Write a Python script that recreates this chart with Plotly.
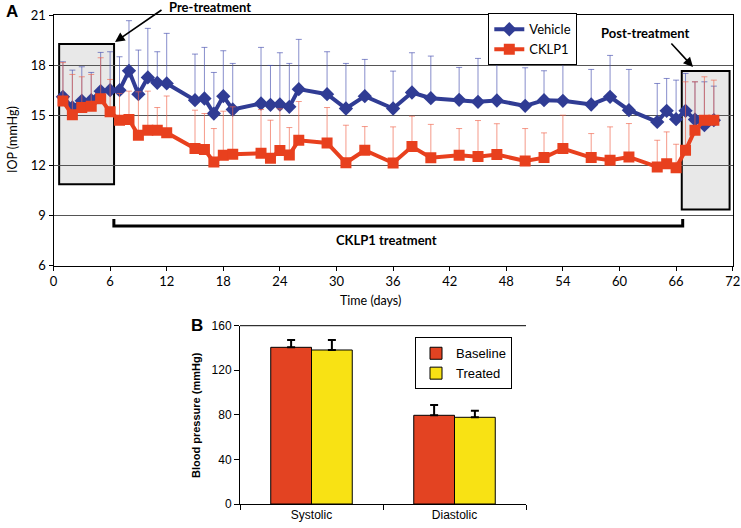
import plotly.graph_objects as go

# ---------------- Panel A data ----------------
days = [1, 2, 3, 4, 5, 6, 7, 8, 9, 10, 11, 12, 15, 16, 17, 18, 19, 22, 23, 24, 25, 26,
        29, 31, 33, 36, 38, 40, 43, 45, 47, 50, 52, 54, 57, 59, 61, 64, 65, 66, 67, 68, 69, 70]
vehicle = [16.1, 15.46, 15.86, 15.9, 16.44, 16.5, 16.5, 17.66, 16.26, 17.26, 16.94, 16.9,
           15.9, 16.0, 15.1, 16.14, 15.34,
           15.7, 15.62, 15.64, 15.5, 16.56,
           16.26, 15.4, 16.14, 15.4, 16.36, 16.02, 15.92, 15.8, 15.88,
           15.56, 15.9, 15.86, 15.64, 16.1, 15.3,
           14.6, 15.26, 14.76, 15.26, 14.74, 14.4, 14.7]
vehicle_err = [2.1, 2.24, 2.04, 1.66, 2.32, 2.3, 2.0, 3.0, 2.64, 2.94, 1.86, 3.0,
               2.76, 3.06, 2.46, 2.72, 2.76,
               3.36, 2.36, 3.1, 2.6, 2.98,
               2.54, 2.7, 2.2, 2.24, 2.38, 2.52, 1.94, 2.6, 2.44,
               2.28, 1.76, 2.44, 2.1, 2.48, 2.44,
               2.3, 1.94, 2.34, 2.24, 2.26, 2.6, 2.04]
cklp1 = [15.85, 15.02, 15.46, 15.54, 15.98, 15.2, 14.7, 14.74, 13.8, 14.1, 14.1, 13.95,
         13.0, 12.94, 12.2, 12.6, 12.66,
         12.72, 12.42, 12.88, 12.62, 13.5,
         13.34, 12.15, 12.9, 12.14, 13.12, 12.45, 12.6, 12.52, 12.64,
         12.26, 12.46, 13.0, 12.46, 12.3, 12.5,
         11.9, 12.1, 11.86, 12.9, 14.1, 14.7, 14.7]
cklp1_err = [2.3, 2.42, 1.84, 1.9, 2.46, 1.94, 1.6, 1.7, 2.6, 2.34, 1.36, 2.2,
             2.3, 2.16, 2.0, 2.64, 2.84,
             2.62, 2.28, 2.5, 1.64, 2.32,
             2.12, 2.25, 1.42, 2.16, 1.82, 2.0, 1.6, 2.16, 1.85,
             1.94, 1.48, 2.0, 1.44, 2.0, 2.0,
             1.6, 1.9, 1.4, 4.1, 2.9, 2.6, 2.4]
x_ticks = [0, 6, 12, 18, 24, 30, 36, 42, 48, 54, 60, 66, 72]
y_ticks = [6, 9, 12, 15, 18, 21]

# ---------------- Panel B data ----------------
bp_categories = ["Systolic", "Diastolic"]
baseline = [140.6, 79.6]
baseline_err = [6.5, 9.2]
treated = [138.2, 77.8]
treated_err = [8.9, 5.9]
bp_ticks = [0, 40, 80, 120, 160]

W, H = 741, 528
def px(x):
    return x / W
def py(y):
    return 1 - y / H

BLUE = "#303C94"
RED = "#E8401E"
FA = "Lato"
FB = "Liberation Sans"

fig = go.Figure()

fig.add_trace(go.Scatter(
    x=days, y=vehicle, name="Vehicle", mode="lines+markers",
    line=dict(color=BLUE, width=4),
    marker=dict(symbol="diamond", size=11, color=BLUE),
    error_y=dict(type="data", array=vehicle_err, arrayminus=[0] * len(days), symmetric=False,
                 color="rgba(70,80,175,0.65)", thickness=1, width=3),
    xaxis="x", yaxis="y", legend="legend"))
fig.add_trace(go.Scatter(
    x=days, y=cklp1, name="CKLP1", mode="lines+markers",
    line=dict(color=RED, width=4),
    marker=dict(symbol="square", size=11, color=RED),
    error_y=dict(type="data", array=cklp1_err, arrayminus=[0] * len(days), symmetric=False,
                 color="rgba(240,100,75,0.65)", thickness=1, width=3),
    xaxis="x", yaxis="y", legend="legend"))

fig.add_trace(go.Bar(
    x=bp_categories, y=baseline, name="Baseline",
    marker=dict(color="#E34322", line=dict(color="black", width=1)),
    error_y=dict(type="data", array=baseline_err, arrayminus=[0, 0], symmetric=False,
                 color="black", thickness=2, width=4),
    xaxis="x2", yaxis="y2", legend="legend2"))
fig.add_trace(go.Bar(
    x=bp_categories, y=treated, name="Treated",
    marker=dict(color="#F8E214", line=dict(color="black", width=1)),
    error_y=dict(type="data", array=treated_err, arrayminus=[0, 0], symmetric=False,
                 color="black", thickness=2, width=4),
    xaxis="x2", yaxis="y2", legend="legend2"))

shapes = [
    dict(type="rect", xref="x", yref="y", x0=0.6, x1=6.42, y0=10.86, y1=19.26,
         fillcolor="#E8E8E8", line=dict(color="black", width=2), layer="below"),
    dict(type="rect", xref="x", yref="y", x0=66.6, x1=71.67, y0=9.36, y1=17.64,
         fillcolor="#E8E8E8", line=dict(color="black", width=2), layer="below"),
    dict(type="path", xref="x", yref="y",
         path="M 6.4,8.78 L 6.4,8.36 L 66.7,8.36 L 66.7,8.78",
         line=dict(color="black", width=3)),
    dict(type="line", xref="paper", yref="paper", x0=px(240), x1=px(526),
         y0=py(325.7), y1=py(325.7), line=dict(color="black", width=1)),
]

annotations = [
    dict(text="<b>A</b>", x=px(4), y=py(12), xref="paper", yref="paper", showarrow=False,
         xanchor="left", yanchor="middle", font=dict(family=FB, size=17, color="black")),
    dict(text="<b>B</b>", x=px(189), y=py(325), xref="paper", yref="paper", showarrow=False,
         xanchor="left", yanchor="middle", font=dict(family=FB, size=17, color="black")),
    dict(text="<b>Pre-treatment</b>", x=px(167), y=py(7), xref="paper", yref="paper",
         showarrow=False, xanchor="left", yanchor="middle",
         font=dict(family=FA, size=13, color="black")),
    dict(text="", x=px(115), y=py(42), xref="paper", yref="paper", showarrow=True,
         ax=48, ay=-33, arrowhead=2, arrowsize=1.2, arrowwidth=1.6, arrowcolor="black",
         standoff=0),
    dict(text="<b>Post-treatment</b>", x=px(645), y=py(33), xref="paper", yref="paper",
         showarrow=False, xanchor="center", yanchor="middle",
         font=dict(family=FA, size=13, color="black")),
    dict(text="", x=px(693), y=py(67), xref="paper", yref="paper", showarrow=True,
         ax=-23, ay=-25, arrowhead=2, arrowsize=1.2, arrowwidth=1.6, arrowcolor="black",
         standoff=0),
    dict(text="<b>CKLP1 treatment</b>", x=px(386), y=py(240), xref="paper", yref="paper",
         showarrow=False, xanchor="center", yanchor="middle",
         font=dict(family=FA, size=13, color="black")),
    dict(text="Time (days)", x=px(370), y=py(300), xref="paper", yref="paper",
         showarrow=False, xanchor="center", yanchor="middle",
         font=dict(family=FA, size=12.5, color="black")),
    dict(text="IOP (mmHg)", x=px(12), y=py(140), xref="paper", yref="paper",
         showarrow=False, xanchor="center", yanchor="middle", textangle=-90,
         font=dict(family=FA, size=12.5, color="black")),
    dict(text="<b>Blood pressure (mmHg)</b>", x=px(196), y=py(415), xref="paper", yref="paper",
         showarrow=False, xanchor="center", yanchor="middle", textangle=-90,
         font=dict(family=FB, size=11, color="black")),
]

fig.update_layout(
    width=W, height=H, margin=dict(l=0, r=0, t=0, b=0, autoexpand=False),
    paper_bgcolor="white", plot_bgcolor="rgba(0,0,0,0)",
    shapes=shapes, annotations=annotations,
    barmode="group", bargap=0.43, bargroupgap=0,
    xaxis=dict(domain=[px(53.5), px(732.7)], range=[0, 72], tickvals=x_ticks,
               showgrid=False, zeroline=False, showline=True, linecolor="black", linewidth=1,
               mirror=True, ticks="outside", ticklen=4, tickcolor="black", automargin=False,
               tickfont=dict(family=FA, size=13, color="black"), anchor="y"),
    yaxis=dict(domain=[py(265.5), py(15)], range=[6, 21], tickvals=y_ticks,
               showgrid=True, gridcolor="#555555", gridwidth=1, zeroline=False,
               showline=True, linecolor="black", linewidth=1, mirror=True,
               ticks="outside", ticklen=4, tickcolor="black", automargin=False,
               tickfont=dict(family=FA, size=13, color="black"), anchor="x"),
    xaxis2=dict(domain=[px(240), px(526)], type="category", tickson="boundaries",
                showgrid=False, zeroline=False, showline=True, linecolor="black", linewidth=1,
                ticks="outside", ticklen=5, tickcolor="black", automargin=False,
                tickfont=dict(family=FB, size=12, color="black"), anchor="y2"),
    yaxis2=dict(domain=[py(504), py(325.7)], range=[0, 160], tickvals=bp_ticks,
                showgrid=False, zeroline=False, showline=True, linecolor="black", linewidth=1,
                ticks="outside", ticklen=5, tickcolor="black", automargin=False,
                tickfont=dict(family=FB, size=12, color="black"), anchor="x2"),
    legend=dict(x=px(488.3), y=py(13.3), xanchor="left", yanchor="top",
                bgcolor="white", bordercolor="black", borderwidth=1,
                font=dict(family=FA, size=13, color="black"), tracegroupgap=2,
                itemwidth=30),
    legend2=dict(x=px(415), y=py(337.3), xanchor="left", yanchor="top",
                 bgcolor="white", bordercolor="black", borderwidth=1,
                 font=dict(family=FB, size=13, color="black"), itemwidth=30),
    showlegend=True,
)

fig.write_html("out.html", config={"displayModeBar": False},
               post_script="document.body.style.margin='0';")
